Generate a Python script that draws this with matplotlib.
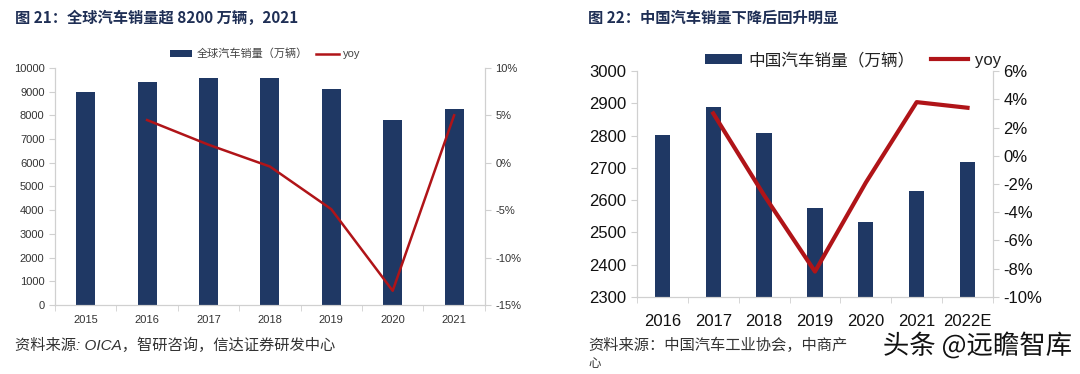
import matplotlib
matplotlib.use("Agg")
import matplotlib.pyplot as plt
import matplotlib.patheffects as pe
from matplotlib.ticker import FuncFormatter, FixedLocator
import numpy as np

# latin text in an Arial-like face, CJK falls back to Noto
plt.rcParams['font.family'] = ['Liberation Sans', 'Noto Sans CJK SC']
cjk = ['Noto Sans CJK SC', 'DejaVu Sans']

# left chart: global sales
g_years = ['2015', '2016', '2017', '2018', '2019', '2020', '2021']
g_sales = [8968, 9386, 9566, 9563, 9130, 7797, 8268]
g_yoy = [None, 4.5, 1.9, -0.4, -4.9, -13.5, 5.0]

# right chart: China sales
c_years = ['2016', '2017', '2018', '2019', '2020', '2021', '2022E']
c_sales = [2803, 2888, 2808, 2577, 2531, 2627, 2717]
c_yoy = [None, 3.0, -2.8, -8.2, -1.9, 3.8, 3.4]

navy = '#1f3864'
red = '#b01418'
spine_c = '#d0d0d0'
title_c = '#1f2f55'

fig = plt.figure(figsize=(10.8, 3.74), dpi=100)


def style_axes(ax, ax2, n, fs, tc, xpad):
    for a in (ax, ax2):
        a.spines['top'].set_visible(False)
        for s in ['left', 'right', 'bottom']:
            a.spines[s].set_color(spine_c)
    ax.set_xlim(-0.5, n - 0.5)
    ax.set_xticks(range(n))
    ax.xaxis.set_minor_locator(FixedLocator(np.arange(-0.5, n, 1)))
    ax.tick_params(axis='x', which='major', length=0, labelsize=fs, colors=tc, pad=xpad)
    ax.tick_params(axis='x', which='minor', length=4, color=spine_c)
    ax.tick_params(axis='y', length=4, labelsize=fs, colors=tc)
    ax2.tick_params(axis='y', length=4, labelsize=fs, colors=tc)
    ax.yaxis.set_tick_params(color=spine_c)
    ax2.yaxis.set_tick_params(color=spine_c)


pct = FuncFormatter(lambda v, p: f'{v:.0f}%')

# ---- left
ax = fig.add_axes([0.0509, 0.1845, 0.398, 0.634])
x = np.arange(len(g_years))
b = ax.bar(x, g_sales, width=0.31, color=navy, zorder=2)
ax.set_ylim(0, 10000)
ax.set_yticks(range(0, 10001, 1000))
ax2 = ax.twinx()
gx = [i for i, v in enumerate(g_yoy) if v is not None]
gy = [v for v in g_yoy if v is not None]
l, = ax2.plot(gx, gy, color=red, lw=1.8, zorder=3)
ax2.set_ylim(-15, 10)
ax2.set_yticks(range(-15, 11, 5))
ax2.yaxis.set_major_formatter(pct)
style_axes(ax, ax2, len(g_years), 8, '#333333', 7)
ax.set_xticklabels(g_years)
fig.legend([b, l], ['全球汽车销量（万辆）', 'yoy'], loc='center', bbox_to_anchor=(265 / 1080, 1 - 54 / 374),
           ncol=2, frameon=False, fontsize=8, handlelength=2.0, handleheight=0.6,
           columnspacing=0.8, handletextpad=0.4, labelcolor='#444444')

fig.text(15 / 1080, 1 - 18 / 374, '图 21：全球汽车销量超 8200 万辆，2021', fontsize=11,
         fontweight='bold', color=title_c, va='center', family=cjk)
fig.text(15 / 1080, 1 - 345 / 374, '资料来源: OICA，智研咨询，信达证券研发中心', fontsize=11,
         style='italic', color='#333333', va='center')

# ---- right
cx = np.arange(len(c_years))
axr = fig.add_axes([0.5898, 0.206, 0.3296, 0.604])
br = axr.bar(cx, c_sales, width=0.3, color=navy, zorder=2)
axr.set_ylim(2300, 3000)
axr.set_yticks(range(2300, 3001, 100))
axr2 = axr.twinx()
rx = [i for i, v in enumerate(c_yoy) if v is not None]
ry = [v for v in c_yoy if v is not None]
lr, = axr2.plot(rx, ry, color=red, lw=3, zorder=3)
axr2.set_ylim(-10, 6)
axr2.set_yticks(range(-10, 7, 2))
axr2.yaxis.set_major_formatter(pct)
style_axes(axr, axr2, len(c_years), 12, '#111111', 12)
axr.set_xticklabels(c_years)
fig.legend([br, lr], ['中国汽车销量（万辆）', 'yoy'], loc='center', bbox_to_anchor=(853 / 1080, 1 - 60 / 374),
           ncol=2, frameon=False, fontsize=12, handlelength=2.2, handleheight=0.6,
           columnspacing=1.0, handletextpad=0.4, labelcolor='#222222')

fig.text(588 / 1080, 1 - 18 / 374, '图 22：中国汽车销量下降后回升明显', fontsize=11,
         fontweight='bold', color=title_c, va='center', family=cjk)
fig.text(588 / 1080, 1 - 345 / 374, '资料来源：中国汽车工业协会，中商产', fontsize=11,
         style='italic', color='#333333', va='center')
fig.text(588 / 1080, 1 - 364 / 374, '心', fontsize=9, color='#333333', va='center')
fig.text(1072 / 1080, 1 - 346 / 374, '头条 @远瞻智库', fontsize=19, color='#111111', ha='right',
         va='center', family=cjk,
         path_effects=[pe.withStroke(linewidth=3, foreground='white')])

fig.savefig('out.png', dpi=100)
